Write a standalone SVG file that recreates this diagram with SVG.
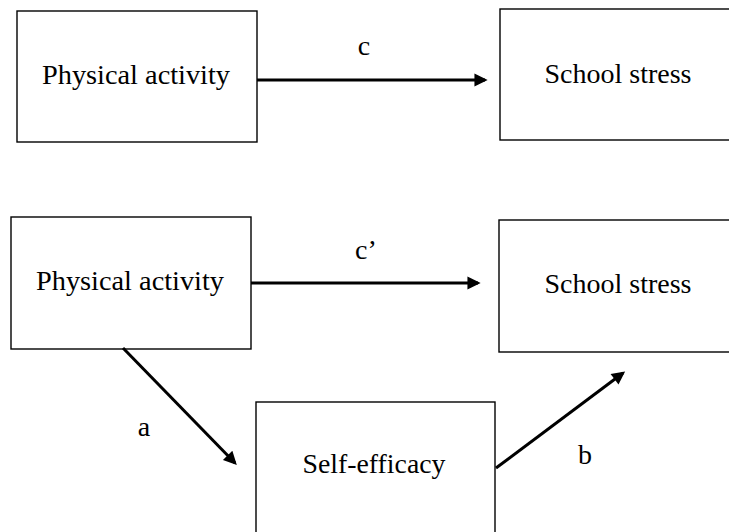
<svg xmlns="http://www.w3.org/2000/svg" width="729" height="532" viewBox="0 0 729 532">
<style>
.box{fill:#fff;stroke:#000;stroke-width:1.4}
.t{font-family:"Liberation Serif","Times New Roman",serif;font-size:28px;fill:#000;text-anchor:middle}
.e{stroke:#000;stroke-width:3;fill:none;marker-end:url(#ah)}
</style>
<defs>
<marker id="ah" viewBox="0 0 10 10" refX="8" refY="5" markerWidth="5" markerHeight="4.4" orient="auto" markerUnits="strokeWidth">
<path d="M0,0 L10,5 L0,10 z" fill="#000"/>
</marker>
</defs>
<rect width="729" height="532" fill="#fff"/>
<g id="pa1"><rect class="box" x="17" y="11" width="240" height="131"/><text class="t" x="136" y="84" textLength="188" lengthAdjust="spacingAndGlyphs">Physical activity</text></g>
<g id="ss1"><rect class="box" x="500" y="9" width="240" height="131"/><text class="t" x="618" y="83" textLength="147" lengthAdjust="spacingAndGlyphs">School stress</text></g>
<g id="pa2"><rect class="box" x="11" y="217" width="240" height="132"/><text class="t" x="130" y="290" textLength="188" lengthAdjust="spacingAndGlyphs">Physical activity</text></g>
<g id="ss2"><rect class="box" x="499" y="220" width="240" height="132"/><text class="t" x="618" y="293" textLength="147" lengthAdjust="spacingAndGlyphs">School stress</text></g>
<g id="se"><rect class="box" x="256" y="402" width="239" height="140"/><text class="t" x="374" y="473" textLength="143" lengthAdjust="spacingAndGlyphs">Self-efficacy</text></g>
<g id="connectors">
<line class="e" x1="257" y1="80" x2="485" y2="80"/>
<line class="e" x1="251" y1="283" x2="478" y2="283"/>
<line class="e" x1="123" y1="348" x2="235" y2="463"/>
<line class="e" x1="496" y1="468" x2="623" y2="373"/>
</g>
<g id="labels">
<text class="t" x="364" y="55">c</text>
<text class="t" x="366" y="259">c’</text>
<text class="t" x="144" y="436">a</text>
<text class="t" x="585" y="464">b</text>
</g>
</svg>
